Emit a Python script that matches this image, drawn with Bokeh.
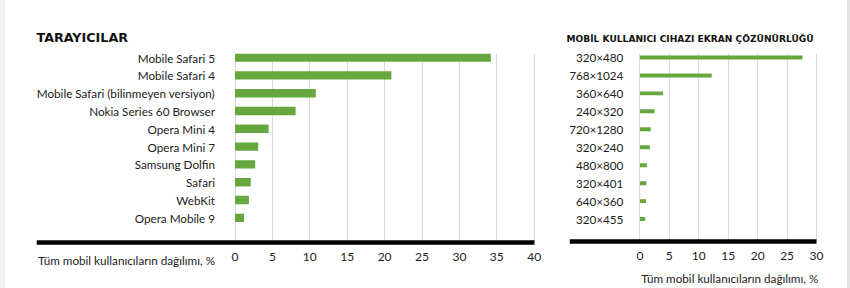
from bokeh.plotting import figure
from bokeh.models import ColumnDataSource, FixedTicker, Range1d, Label, LinearAxis, Spacer
from bokeh.layouts import row
from bokeh.core.properties import value
from bokeh.embed import file_html
from bokeh.resources import INLINE

# ---- data ----
browsers = ["Mobile Safari 5", "Mobile Safari 4", "Mobile Safari (bilinmeyen versiyon)",
            "Nokia Series 60 Browser", "Opera Mini 4", "Opera Mini 7", "Samsung Dolfin",
            "Safari", "WebKit", "Opera Mobile 9"]
browser_share = [34.2, 20.9, 10.8, 8.1, 4.5, 3.1, 2.7, 2.1, 1.85, 1.2]
browser_ticks = [0, 5, 10, 15, 20, 25, 30, 35, 40]

resolutions = ["320×480", "768×1024", "360×640", "240×320", "720×1280", "320×240",
               "480×800", "320×401", "640×360", "320×455"]
resolution_share = [27.6, 12.2, 3.95, 2.5, 1.85, 1.7, 1.2, 1.1, 1.05, 0.9]
resolution_ticks = [0, 5, 10, 15, 20, 25, 30]

title_left = "TARAYICILAR"
title_right = "MOBİL KULLANICI CIHAZI EKRAN ÇÖZÜNÜRLÜĞÜ"
axis_title = "Tüm mobil kullanıcıların dağılımı, %"

GREEN = "#66a83d"
TEXT = "#222222"
FONT = "Lato"
TFONT = "DejaVu Sans"


def make_chart(cats, vals, ticks, x_range, y_range, base, bar_h, width, borders,
               title, title_size, title_offset, title_standoff, label_offset,
               label_size, tick_standoff, at_x, at_xoff, at_yoff, at_align):
    n = len(cats)
    ypos = list(range(n - 1, -1, -1))
    src = ColumnDataSource(dict(cat=cats, val=vals, y=ypos, zero=[0] * n))
    p = figure(width=width, height=288, output_backend="svg", toolbar_location=None,
               x_range=Range1d(*x_range), y_range=Range1d(*y_range),
               x_axis_location=None, y_axis_location=None,
               min_border_left=borders[0], min_border_right=borders[1],
               min_border_top=borders[2], min_border_bottom=borders[3])
    p.outline_line_color = None
    p.background_fill_color = "white"
    p.border_fill_color = "white"
    p.ygrid.visible = False
    p.xgrid.ticker = FixedTicker(ticks=ticks)
    p.xgrid.grid_line_color = "#dadada"
    p.xgrid.grid_line_width = 1
    try:
        p.xgrid.cross_bounds = (base, y_range[1])
    except Exception:
        p.xgrid.visible = False
        p.segment(x0=ticks, x1=ticks, y0=[base] * len(ticks), y1=[y_range[1]] * len(ticks),
                  line_color="#dadada", line_width=1)
    p.hbar(y="y", left="zero", right="val", height=bar_h, source=src,
           fill_color=GREEN, line_color=None)
    p.text(x="zero", y="y", text="cat", source=src, x_offset=label_offset,
           text_align="right", text_baseline="middle", text_color=TEXT,
           text_font=value(FONT), text_font_size=label_size)
    ax = LinearAxis(fixed_location=base, ticker=FixedTicker(ticks=ticks),
                    bounds=(x_range[0], ticks[-1]))
    ax.axis_line_color = "black"
    ax.axis_line_width = 4.5
    ax.major_tick_line_color = None
    ax.minor_tick_line_color = None
    ax.major_label_text_font = FONT
    ax.major_label_text_font_size = "12px"
    ax.major_label_text_color = TEXT
    ax.major_label_standoff = tick_standoff
    p.add_layout(ax, "below")
    p.add_layout(Label(x=at_x, y=base, x_units="data", y_units="data", x_offset=at_xoff,
                       y_offset=at_yoff, text=axis_title, text_align=at_align,
                       text_baseline="middle", text_font=FONT, text_font_size="11.7px",
                       text_color=TEXT))
    p.title.text = title
    p.title.text_font = TFONT
    p.title.text_font_style = "bold"
    p.title.text_font_size = title_size
    p.title.text_color = "#111111"
    p.title.align = "left"
    p.title.offset = title_offset
    p.title.standoff = title_standoff
    return p


left = make_chart(browsers, browser_share, browser_ticks, (-26.54, 42.18), (-3.97, 9.23),
                  -1.38, 0.47, 551, (31, 6, 51, 0), title_left, "12.7px", 0, 17.5, -20,
                  "11.7px", 5, 0, -20, -17.5, "right")

right = make_chart(resolutions, resolution_share, resolution_ticks, (-11.95, 35.08),
                   (-3.864, 9.22), -1.275, 0.22, 291, (13, 1, 53, 0), title_right, "9.1px",
                   -3, 19, -16.5, "11.7px", 4, 30, 1.7, -36.5, "right")

edge_l = Spacer(width=5, height=288, styles={"background-color": "#f1f1f1"})
edge_r = Spacer(width=3, height=288, styles={"background-color": "#e3e3e3"})

layout = row(edge_l, left, right, edge_r)
open("out.html", "w").write(file_html(layout, INLINE))
